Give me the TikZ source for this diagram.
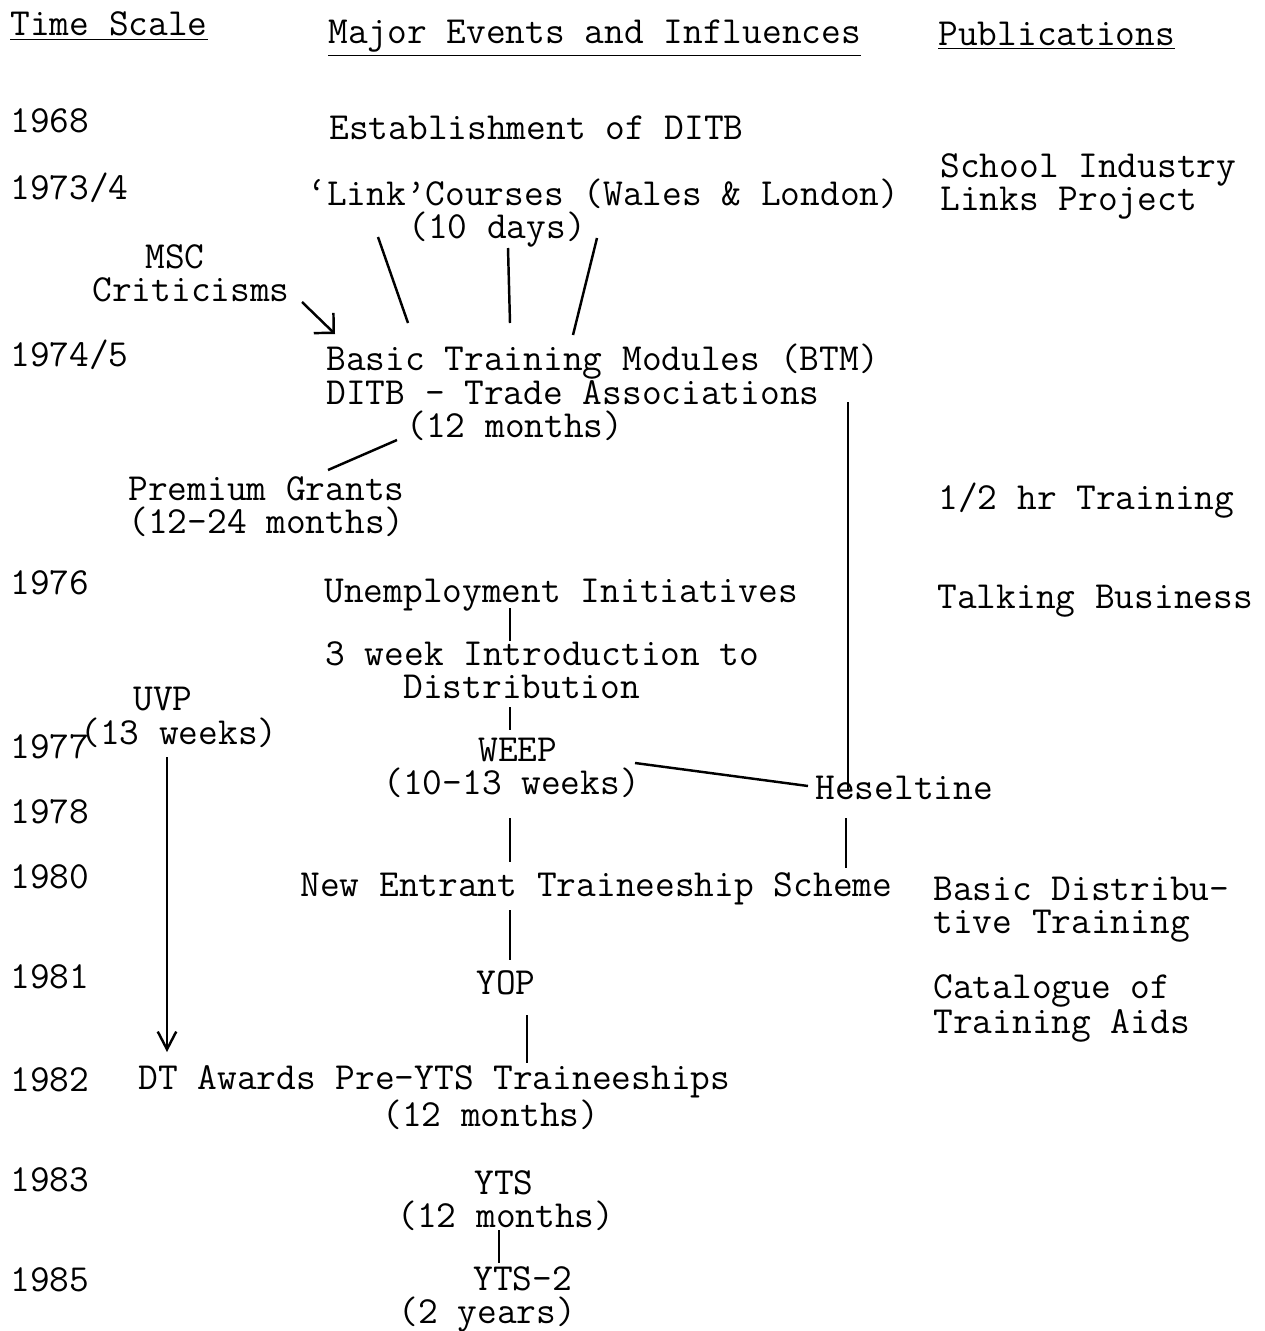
\documentclass[tikz,border=0pt]{standalone}
\usetikzlibrary{arrows.meta,positioning}
\tikzset{
	%Define typewriter text
	txt/.style={
		font=\ttfamily\fontsize{21.8}{18.4}\selectfont,
		inner sep=0,
		anchor=base west,
		align=left},
	% Define line style
	lnk/.style={line width=1.4pt},
	% Define arrow style
	pil/.style={lnk, -{Straight Barb[angle=90:4mm]}},
	pilv/.style={lnk, -{Straight Barb[angle=55:4mm]}}
}
\begin{document}
\begin{tikzpicture}[x=0.2mm,y=-0.2mm]
	\useasboundingbox (0,0) rectangle (1264,1331);
	% headings
	\node[txt] (hTime) at (10,36) {\underline{Time Scale}};
	\node[txt] (hEvents) at (328,44) {\underline{Major Events and Influences}};
	\node[txt] (hPubs) at (938,46) {\underline{Publications}};
	% time scale
	\node[txt] (y68) at (10,133) {1968};
	\node[txt] (y73) at (10,199) {1973/4};
	\node[txt] (y74) at (10,366) {1974/5};
	\node[txt] (y76) at (10,594) {1976};
	\node[txt] (y77) at (10,758) {1977};
	\node[txt] (y78) at (10,823) {1978};
	\node[txt] (y80) at (10,888) {1980};
	\node[txt] (y81) at (10,988) {1981};
	\node[txt] (y82) at (10,1091) {1982};
	\node[txt] (y83) at (10,1191) {1983};
	\node[txt] (y85) at (10,1291) {1985};
	% events (base = last line)
	\node[txt] (ditb) at (329,139) {Establishment of DITB};
	\node[txt] (link) at (307,238) {\textquoteleft Link\textquoteright Courses (Wales \& London)\\\hspace*{20.2mm}(10 days)};
	\node[txt] (msc) at (92,301) {\hspace*{10.6mm}MSC\\Criticisms};
	\node[txt] (btm) at (326,437) {Basic Training Modules (BTM)\\DITB - Trade Associations\\\hspace*{16mm}(12 months)};
	\node[txt] (prem) at (128,533) {Premium Grants\\(12-24 months)};
	\node[txt] (unemp) at (324,602) {Unemployment Initiatives};
	\node[txt] (intro) at (325,698) {3 week Introduction to\\\hspace*{15.6mm}Distribution};
	\node[txt] (uvp) at (133,710) {UVP};
	\node[txt] (uvpw) at (80,744) {(13 weeks)};
	\node[txt] (weep) at (383,794) {\hspace*{19mm}WEEP\\(10-13 weeks)};
	\node[txt] (hes) at (815,799) {Heseltine};
	\node[txt] (nets) at (300,896) {New Entrant Traineeship Scheme};
	\node[txt] (yop) at (476,994) {YOP};
	\node[txt] (dta) at (138,1126) {DT Awards Pre-YTS Traineeships\\\hspace*{48.8mm}(12 months)};
	\node[txt] (yts) at (397,1227) {\hspace*{15.4mm}YTS\\(12 months)};
	\node[txt] (yts2) at (398,1323) {\hspace*{15mm}YTS-2\\(2 years)};
	% publications
	\node[txt] (sil) at (940,210) {School Industry\\Links Project};
	\node[txt] (half) at (938,509) {1/2 hr Training};
	\node[txt] (talk) at (937,608) {Talking Business};
	\node[txt] (bdt) at (933,933) {Basic Distribu-\\tive Training};
	\node[txt] (cat) at (933,1033) {Catalogue of\\Training Aids};
	% connector ends
	\coordinate (l1a) at (378,237);  \coordinate (l1b) at (408,323);
	\coordinate (l2a) at (508,248);  \coordinate (l2b) at (510,323);
	\coordinate (l3a) at (597,238);  \coordinate (l3b) at (573,335);
	\coordinate (ma) at (302,302);   \coordinate (mb) at (335,334);
	\coordinate (pa) at (397,440);   \coordinate (pb) at (328,470);
	\coordinate (ha) at (848,402);   \coordinate (hb) at (848,790);
	\coordinate (ua) at (510,608);   \coordinate (ub) at (510,641);
	\coordinate (da) at (510,707);   \coordinate (db) at (510,730);
	\coordinate (wa) at (635,763);   \coordinate (wb) at (808,786);
	\coordinate (na) at (510,818);   \coordinate (nb) at (510,862);
	\coordinate (sa) at (846,818);   \coordinate (sb) at (846,868);
	\coordinate (oa) at (510,910);   \coordinate (ob) at (510,960);
	\coordinate (ya) at (527,1015);  \coordinate (yb) at (527,1063);
	\coordinate (va) at (167,757);   \coordinate (vb) at (167,1052);
	\coordinate (ta) at (499,1230);  \coordinate (tb) at (499,1263);
	% connectors
	\draw[lnk] (l1a) -- (l1b);
	\draw[lnk] (l2a) -- (l2b);
	\draw[lnk] (l3a) -- (l3b);
	\draw[pil] (ma) -- (mb);
	\draw[lnk] (pa) -- (pb);
	\draw[lnk] (ha) -- (hb);
	\draw[lnk] (ua) -- (ub);
	\draw[lnk] (da) -- (db);
	\draw[lnk] (wa) -- (wb);
	\draw[lnk] (na) -- (nb);
	\draw[lnk] (sa) -- (sb);
	\draw[lnk] (oa) -- (ob);
	\draw[lnk] (ya) -- (yb);
	\draw[pilv] (va) -- (vb);
	\draw[lnk] (ta) -- (tb);
\end{tikzpicture}
\end{document}
